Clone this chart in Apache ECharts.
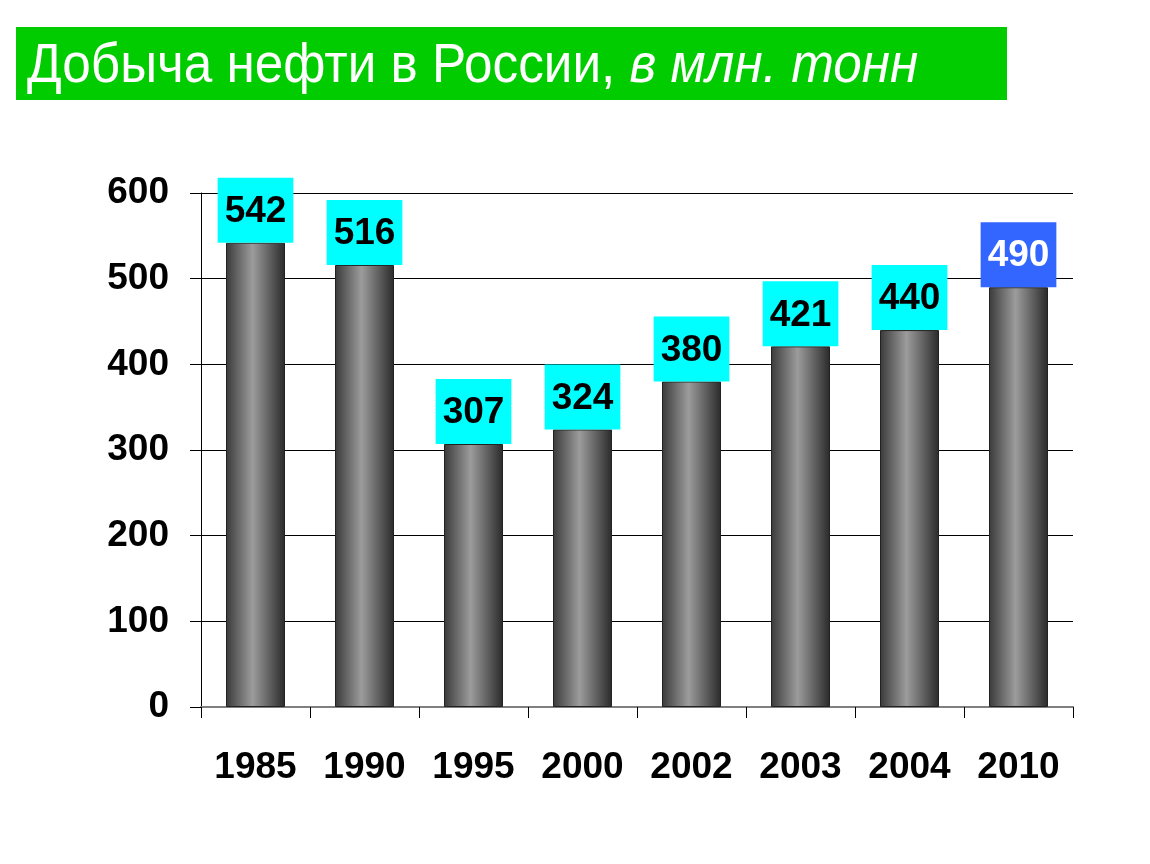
<!DOCTYPE html>
<html><head><meta charset="utf-8">
<script src="https://cdn.jsdelivr.net/npm/echarts@6/dist/echarts.min.js"></script>
<style>html,body{margin:0;padding:0;background:#fff}#c{width:1150px;height:864px}</style>
</head><body><div id="c"></div>
<script>
var categories = ['1985','1990','1995','2000','2002','2003','2004','2010'];
var values = [542, 516, 307, 324, 380, 421, 440, 490];
var yTicks = [0, 100, 200, 300, 400, 500, 600];

var chart = echarts.init(document.getElementById('c'));
var font = '"Liberation Sans", Arial, sans-serif';
var data = values.map(function (v, i) {
  var last = i === values.length - 1;
  return {
    value: v,
    label: {
      backgroundColor: last ? '#3366FF' : '#00FFFF',
      color: last ? '#FFFFFF' : '#000000'
    }
  };
});
chart.setOption({
  animation: false,
  graphic: [{
    type: 'rect', shape: {x: 16, y: 27, width: 991, height: 73},
    style: {fill: '#00CC00'}, z: 0
  }, {
    type: 'text', x: 27, y: 67, scaleX: 1.025, scaleY: 1.1, z: 1,
    style: {
      text: '{n|Добыча нефти в России, }{i|в млн. тонн}',
      verticalAlign: 'middle', align: 'left',
      rich: {
        n: {fontFamily: font, fontSize: 50, fontWeight: 'normal', fill: '#fff', color: '#fff'},
        i: {fontFamily: font, fontSize: 50, fontWeight: 'normal', fontStyle: 'italic', fill: '#fff', color: '#fff'}
      }
    }
  }],
  grid: {left: 201, right: 77, top: 193, bottom: 157},
  xAxis: {
    type: 'category', data: categories,
    axisLine: {lineStyle: {color: '#808080', width: 2}},
    axisTick: {show: true, length: 11, lineStyle: {color: '#000'}},
    axisLabel: {margin: 42, fontFamily: font, fontSize: 37, fontWeight: 'bold', color: '#000'}
  },
  yAxis: {
    type: 'value', min: yTicks[0], max: yTicks[yTicks.length - 1], interval: 100,
    axisLine: {show: true, lineStyle: {color: '#000'}},
    axisTick: {show: true, length: 11, lineStyle: {color: '#000'}},
    splitLine: {lineStyle: {color: '#000', width: 1}},
    axisLabel: {margin: 32, fontFamily: font, fontSize: 37, fontWeight: 'bold', color: '#000'}
  },
  series: [{
    type: 'bar', data: data, barWidth: 59,
    itemStyle: {
      borderColor: '#222', borderWidth: 1,
      color: {type: 'linear', x: 0, y: 0, x2: 1, y2: 0, colorStops: [
        {offset: 0, color: '#3a3a3a'},
        {offset: 0.45, color: '#9c9c9c'},
        {offset: 1, color: '#2a2a2a'}
      ]}
    },
    label: {
      show: true, position: 'top', distance: 0,
      fontFamily: font, fontSize: 37, fontWeight: 'bold',
      padding: [15, 7, 12, 7], lineHeight: 38
    }
  }]
});
</script></body></html>
